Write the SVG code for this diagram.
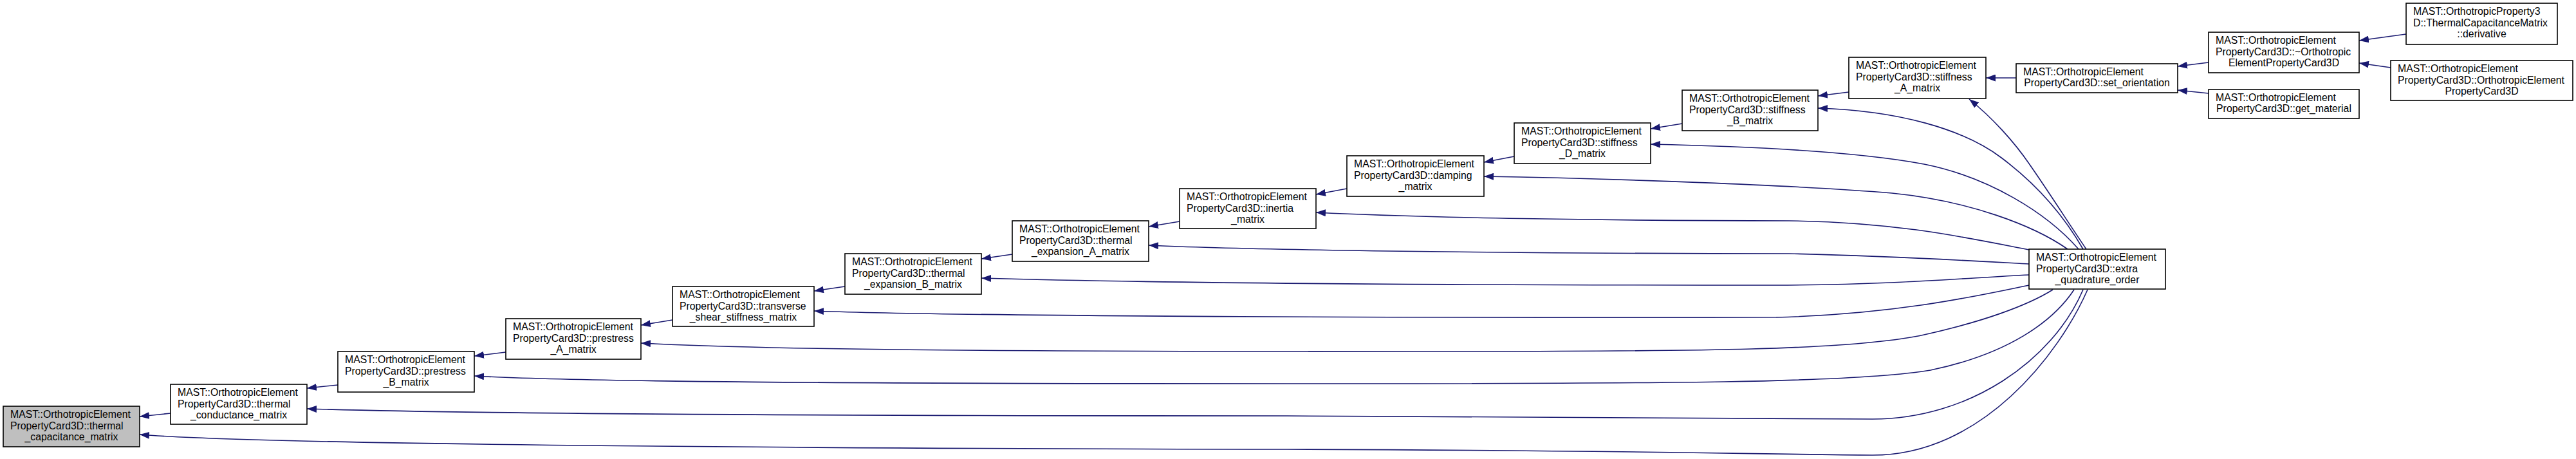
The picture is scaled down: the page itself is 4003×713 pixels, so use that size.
<svg xmlns="http://www.w3.org/2000/svg" width="4003" height="713" viewBox="0 0 4003 713">
<style>
.nd rect{fill:#ffffff;stroke:#000000;stroke-width:1.6}
.nd.root rect{fill:#bfbfbf}
.nd text{font-family:"Liberation Sans",Arial,Helvetica,sans-serif;font-size:15.8px;fill:#000000}
.nd text.c{text-anchor:middle}
#edges path{fill:none;stroke:#191970;stroke-width:1.6;marker-start:url(#ah)}
</style>
<defs>
<marker id="ah" viewBox="0 0 15 11" markerWidth="15" markerHeight="11" refX="15" refY="5.5" orient="auto-start-reverse" markerUnits="userSpaceOnUse">
<path d="M0,0 L15,5.5 L0,11 z" fill="#191970"/>
</marker>
</defs>
<rect x="0" y="0" width="4003" height="713" fill="#ffffff"/>
<g id="edges">
<path d="M217,647 L265,642"/>
<path d="M477,603 L525,598"/>
<path d="M737,553 L786,547"/>
<path d="M996,505 L1045,497"/>
<path d="M1265,452 L1313,445"/>
<path d="M1525,402 L1573,395"/>
<path d="M1785,352 L1833,344"/>
<path d="M2045,302 L2093,293"/>
<path d="M2306,252 L2353,243"/>
<path d="M2565,200 L2614,192"/>
<path d="M2825,149 L2873,143"/>
<path d="M3086,121 L3133,121"/>
<path d="M3384,103 L3432,97"/>
<path d="M3384,140 L3432,145"/>
<path d="M3666,63 L3739,53"/>
<path d="M3666,98 L3715,105"/>
<path d="M217,675 C420,692 1400,697 2000,698 C2500,699 2750,706 2910,707 C3080,707 3200,550 3244,450"/>
<path d="M477,635 C700,642 1200,646 2000,646 C2500,647 2750,651 2910,651 C3060,651 3190,560 3237,450"/>
<path d="M737,584 C900,593 1300,596 2000,596 C2600,596 2880,595 3000,575 C3120,550 3190,500 3223,450"/>
<path d="M996,533 C1200,543 1500,546 2200,546 C2650,546 2880,544 2990,520 C3080,500 3150,475 3190,450"/>
<path d="M1265,483 C1500,492 2300,494 2760,493 C2950,488 3080,458 3153,443"/>
<path d="M1525,432 C1800,440 2300,443 2760,443 C2950,442 3050,432 3153,427"/>
<path d="M1785,381 C1950,389 2400,394 2780,394 C2950,398 3080,406 3153,410"/>
<path d="M2045,330 C2200,338 2500,343 2780,343 C2950,345 3060,370 3153,388"/>
<path d="M2306,274 C2500,277 2800,288 2940,300 C3060,312 3160,350 3213,387"/>
<path d="M2565,224 C2750,228 2900,238 2990,255 C3090,275 3180,330 3230,387"/>
<path d="M2825,168 C2950,172 3050,200 3110,245 C3170,290 3210,340 3237,387"/>
<path d="M3060,154 C3095,182 3130,220 3155,257 C3185,300 3220,355 3242,387"/>
</g>
<g id="n1" class="nd root"><rect x="5" y="631" width="212" height="63"/><text x="16" y="649.3">MAST::OrthotropicElement</text><text x="16" y="666.5">PropertyCard3D::thermal</text><text class="c" x="111" y="683.7">_capacitance_matrix</text></g>
<g id="n2" class="nd"><rect x="265" y="597" width="212" height="62"/><text x="276" y="615.3">MAST::OrthotropicElement</text><text x="276" y="632.5">PropertyCard3D::thermal</text><text class="c" x="371" y="649.7">_conductance_matrix</text></g>
<g id="n3" class="nd"><rect x="525" y="546" width="212" height="63"/><text x="536" y="564.3">MAST::OrthotropicElement</text><text x="536" y="581.5">PropertyCard3D::prestress</text><text class="c" x="631" y="598.7">_B_matrix</text></g>
<g id="n4" class="nd"><rect x="786" y="495" width="210" height="63"/><text x="797" y="513.3">MAST::OrthotropicElement</text><text x="797" y="530.5">PropertyCard3D::prestress</text><text class="c" x="891" y="547.7">_A_matrix</text></g>
<g id="n5" class="nd"><rect x="1045" y="445" width="220" height="62"/><text x="1056" y="463.3">MAST::OrthotropicElement</text><text x="1056" y="480.5">PropertyCard3D::transverse</text><text class="c" x="1155" y="497.7">_shear_stiffness_matrix</text></g>
<g id="n6" class="nd"><rect x="1313" y="394" width="212" height="63"/><text x="1324" y="412.3">MAST::OrthotropicElement</text><text x="1324" y="429.5">PropertyCard3D::thermal</text><text class="c" x="1419" y="446.7">_expansion_B_matrix</text></g>
<g id="n7" class="nd"><rect x="1573" y="343" width="212" height="63"/><text x="1584" y="361.3">MAST::OrthotropicElement</text><text x="1584" y="378.5">PropertyCard3D::thermal</text><text class="c" x="1679" y="395.7">_expansion_A_matrix</text></g>
<g id="n8" class="nd"><rect x="1833" y="293" width="212" height="62"/><text x="1844" y="311.3">MAST::OrthotropicElement</text><text x="1844" y="328.5">PropertyCard3D::inertia</text><text class="c" x="1939" y="345.7">_matrix</text></g>
<g id="n9" class="nd"><rect x="2093" y="242" width="213" height="63"/><text x="2104" y="260.3">MAST::OrthotropicElement</text><text x="2104" y="277.5">PropertyCard3D::damping</text><text class="c" x="2199.5" y="294.7">_matrix</text></g>
<g id="n10" class="nd"><rect x="2353" y="191" width="212" height="63"/><text x="2364" y="209.3">MAST::OrthotropicElement</text><text x="2364" y="226.5">PropertyCard3D::stiffness</text><text class="c" x="2459" y="243.7">_D_matrix</text></g>
<g id="n11" class="nd"><rect x="2614" y="140" width="211" height="63"/><text x="2625" y="158.3">MAST::OrthotropicElement</text><text x="2625" y="175.5">PropertyCard3D::stiffness</text><text class="c" x="2719.5" y="192.7">_B_matrix</text></g>
<g id="n12" class="nd"><rect x="2873" y="89" width="213" height="64"/><text x="2884" y="107.3">MAST::OrthotropicElement</text><text x="2884" y="124.5">PropertyCard3D::stiffness</text><text class="c" x="2979.5" y="141.7">_A_matrix</text></g>
<g id="n13" class="nd"><rect x="3153" y="387" width="212" height="62"/><text x="3164" y="405.3">MAST::OrthotropicElement</text><text x="3164" y="422.5">PropertyCard3D::extra</text><text class="c" x="3259" y="439.7">_quadrature_order</text></g>
<g id="n14" class="nd"><rect x="3133" y="99" width="251" height="45"/><text x="3144" y="116.9">MAST::OrthotropicElement</text><text class="c" x="3258.5" y="134.1">PropertyCard3D::set_orientation</text></g>
<g id="n15" class="nd"><rect x="3432" y="50" width="234" height="63"/><text x="3443" y="68.3">MAST::OrthotropicElement</text><text x="3443" y="85.5">PropertyCard3D::~Orthotropic</text><text class="c" x="3549" y="102.7">ElementPropertyCard3D</text></g>
<g id="n16" class="nd"><rect x="3432" y="139" width="234" height="45"/><text x="3443" y="156.9">MAST::OrthotropicElement</text><text class="c" x="3549" y="174.1">PropertyCard3D::get_material</text></g>
<g id="n17" class="nd"><rect x="3739" y="5" width="235" height="64"/><text x="3750" y="23.3">MAST::OrthotropicProperty3</text><text x="3750" y="40.5">D::ThermalCapacitanceMatrix</text><text class="c" x="3856.5" y="57.7">::derivative</text></g>
<g id="n18" class="nd"><rect x="3715" y="94" width="283" height="62"/><text x="3726" y="112.3">MAST::OrthotropicElement</text><text x="3726" y="129.5">PropertyCard3D::OrthotropicElement</text><text class="c" x="3856.5" y="146.7">PropertyCard3D</text></g>
</svg>
